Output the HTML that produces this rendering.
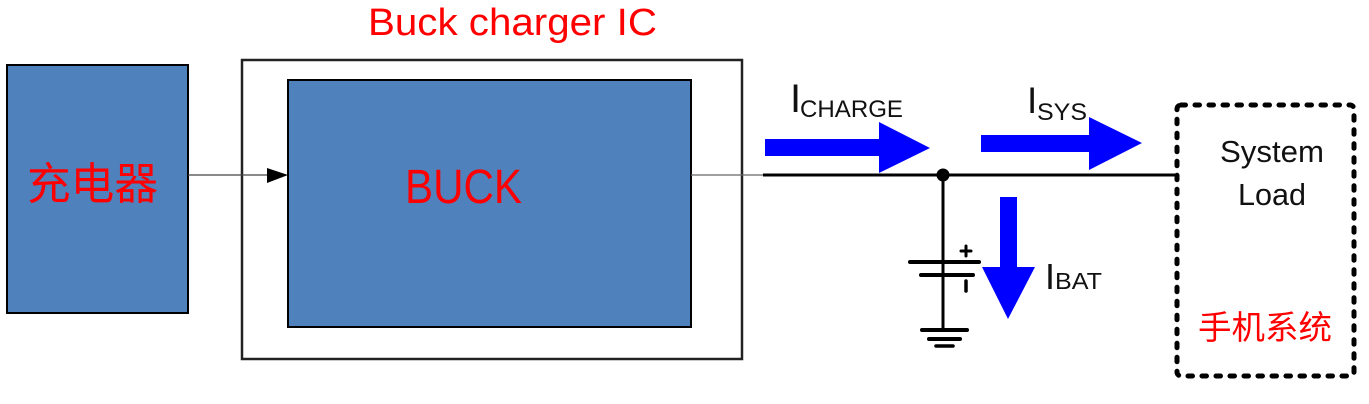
<!DOCTYPE html>
<html><head><meta charset="utf-8"><style>
html,body{margin:0;padding:0;background:#fff;}
svg{display:block;}
</style></head><body>
<svg width="1369" height="404" viewBox="0 0 1369 404" xmlns="http://www.w3.org/2000/svg">
<rect x="0" y="0" width="1369" height="404" fill="#ffffff"/>
<!-- title -->
<text x="368" y="35" font-family="Liberation Sans, sans-serif" font-size="38" fill="#ff0000" textLength="289" lengthAdjust="spacingAndGlyphs">Buck charger IC</text>
<!-- charger box -->
<rect x="7" y="65" width="181" height="248" fill="#4f81bd" stroke="#000" stroke-width="2"/>
<text x="27" y="199" font-family="Liberation Sans, Noto Sans CJK SC, sans-serif" font-size="44" fill="#ff0000" textLength="131" lengthAdjust="spacingAndGlyphs">充电器</text>
<!-- outer IC box -->
<rect x="242" y="60" width="500" height="299" fill="none" stroke="#222" stroke-width="2.5"/>
<!-- BUCK box -->
<rect x="288" y="80" width="403" height="247" fill="#4f81bd" stroke="#000" stroke-width="2"/>
<text x="405" y="203" font-family="Liberation Sans, sans-serif" font-size="48" fill="#ff0000" textLength="117" lengthAdjust="spacingAndGlyphs">BUCK</text>
<!-- charger -> buck arrow -->
<line x1="188" y1="175" x2="270" y2="175" stroke="#444" stroke-width="1.3"/>
<polygon points="267,168 288,175 267,183" fill="#000"/>
<!-- buck output thin line -->
<line x1="691" y1="175" x2="765" y2="175" stroke="#666" stroke-width="1.3"/>
<!-- main bus -->
<line x1="763" y1="175" x2="1177" y2="175" stroke="#000" stroke-width="3"/>
<circle cx="943" cy="175" r="6.5" fill="#000"/>
<!-- battery branch -->
<line x1="943" y1="175" x2="943" y2="330" stroke="#000" stroke-width="3"/>
<line x1="910" y1="262" x2="979" y2="262" stroke="#000" stroke-width="4" stroke-linecap="round"/>
<line x1="921" y1="275" x2="973" y2="275" stroke="#000" stroke-width="4" stroke-linecap="round"/>
<line x1="961" y1="251" x2="971" y2="251" stroke="#000" stroke-width="3" stroke-linecap="round"/>
<line x1="966" y1="246" x2="966" y2="256" stroke="#000" stroke-width="3" stroke-linecap="round"/>
<line x1="966" y1="281" x2="966" y2="291" stroke="#000" stroke-width="3.5" stroke-linecap="round"/>
<!-- ground -->
<line x1="922" y1="330" x2="967" y2="330" stroke="#000" stroke-width="4" stroke-linecap="round"/>
<line x1="929" y1="339" x2="960" y2="339" stroke="#000" stroke-width="4" stroke-linecap="round"/>
<line x1="936" y1="346" x2="953" y2="346" stroke="#000" stroke-width="3.5" stroke-linecap="round"/>
<!-- blue arrows -->
<polygon points="765,139 879,139 879,122 930,148 879,173 879,156 765,156" fill="#0000ff"/>
<polygon points="981,135 1089,135 1089,117 1142,143 1089,170 1089,152 981,152" fill="#0000ff"/>
<polygon points="1000,197 1017,197 1017,267 1035,267 1008,319 982,267 1000,267" fill="#0000ff"/>
<!-- current labels -->
<text x="790" y="112" font-family="Liberation Sans, sans-serif" font-size="40" fill="#111">I</text>
<text x="800" y="117" font-family="Liberation Sans, sans-serif" font-size="24" fill="#111" textLength="103" lengthAdjust="spacingAndGlyphs">CHARGE</text>
<text x="1027" y="113" font-family="Liberation Sans, sans-serif" font-size="37" fill="#111">I</text>
<text x="1037" y="120" font-family="Liberation Sans, sans-serif" font-size="24" fill="#111" textLength="50" lengthAdjust="spacingAndGlyphs">SYS</text>
<text x="1045" y="289" font-family="Liberation Sans, sans-serif" font-size="36" fill="#111">I</text>
<text x="1055" y="289" font-family="Liberation Sans, sans-serif" font-size="23" fill="#111" textLength="47" lengthAdjust="spacingAndGlyphs">BAT</text>
<!-- system load dashed box -->
<rect x="1177" y="105" width="177" height="271" rx="4" fill="none" stroke="#000" stroke-width="5" stroke-dasharray="4.5 9.5" stroke-linecap="round"/>
<text x="1220" y="162" font-family="Liberation Sans, sans-serif" font-size="31" fill="#111" textLength="104" lengthAdjust="spacingAndGlyphs">System</text>
<text x="1238" y="205" font-family="Liberation Sans, sans-serif" font-size="31" fill="#111" textLength="68" lengthAdjust="spacingAndGlyphs">Load</text>
<text x="1198" y="339" font-family="Liberation Sans, Noto Sans CJK SC, sans-serif" font-size="33" fill="#ff0000" textLength="134" lengthAdjust="spacingAndGlyphs">手机系统</text>
</svg>
</body></html>
